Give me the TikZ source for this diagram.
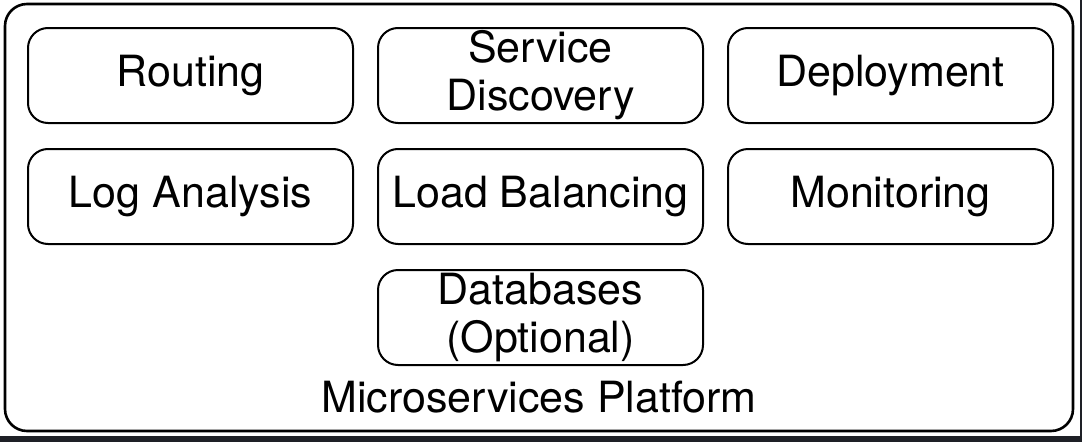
\documentclass[tikz,border=0pt]{standalone}
\usepackage{fontspec}
\setmainfont{TeX Gyre Heros}
\usetikzlibrary{positioning}
\definecolor{frame}{RGB}{30, 32, 38}

\begin{document}
\begin{tikzpicture}[x=1pt, y=-1pt,
		part/.style={draw, line width=2pt, rounded corners=20pt, minimum height=95pt, minimum width=325pt, inner sep=0pt, align=center, font=\fontsize{43}{48}\selectfont},
		platform/.style={draw, line width=2.6pt, rounded corners=22pt}
		]
		\useasboundingbox (0,0) rectangle (1082,442);
		\fill[white] (0,0) rectangle (1082,442);
		\fill[frame] (0,436) rectangle (1082,442);
		\fill[frame] (1080,0) rectangle (1082,442);
		
		\draw[platform] (5,4) rectangle (1073,431);
		
		\node[part] (routing) at (190.5,75.5) {Routing};
		\node[part, right=23pt of routing] (discovery) {Service\\Discovery};
		\node[part, right=23pt of discovery] (deploy) {Deployment};
		\node[part, below=24pt of routing] (logs) {Log Analysis};
		\node[part, right=23pt of logs] (balancing) {Load Balancing};
		\node[part, right=23pt of balancing] (monitoring) {Monitoring};
		\node[part, below=24pt of balancing] (databases) {Databases\\(Optional)};
		
		\node[font=\fontsize{43}{48}\selectfont] (title) at (539,397) {Microservices Platform};
	\end{tikzpicture}
\end{document}
